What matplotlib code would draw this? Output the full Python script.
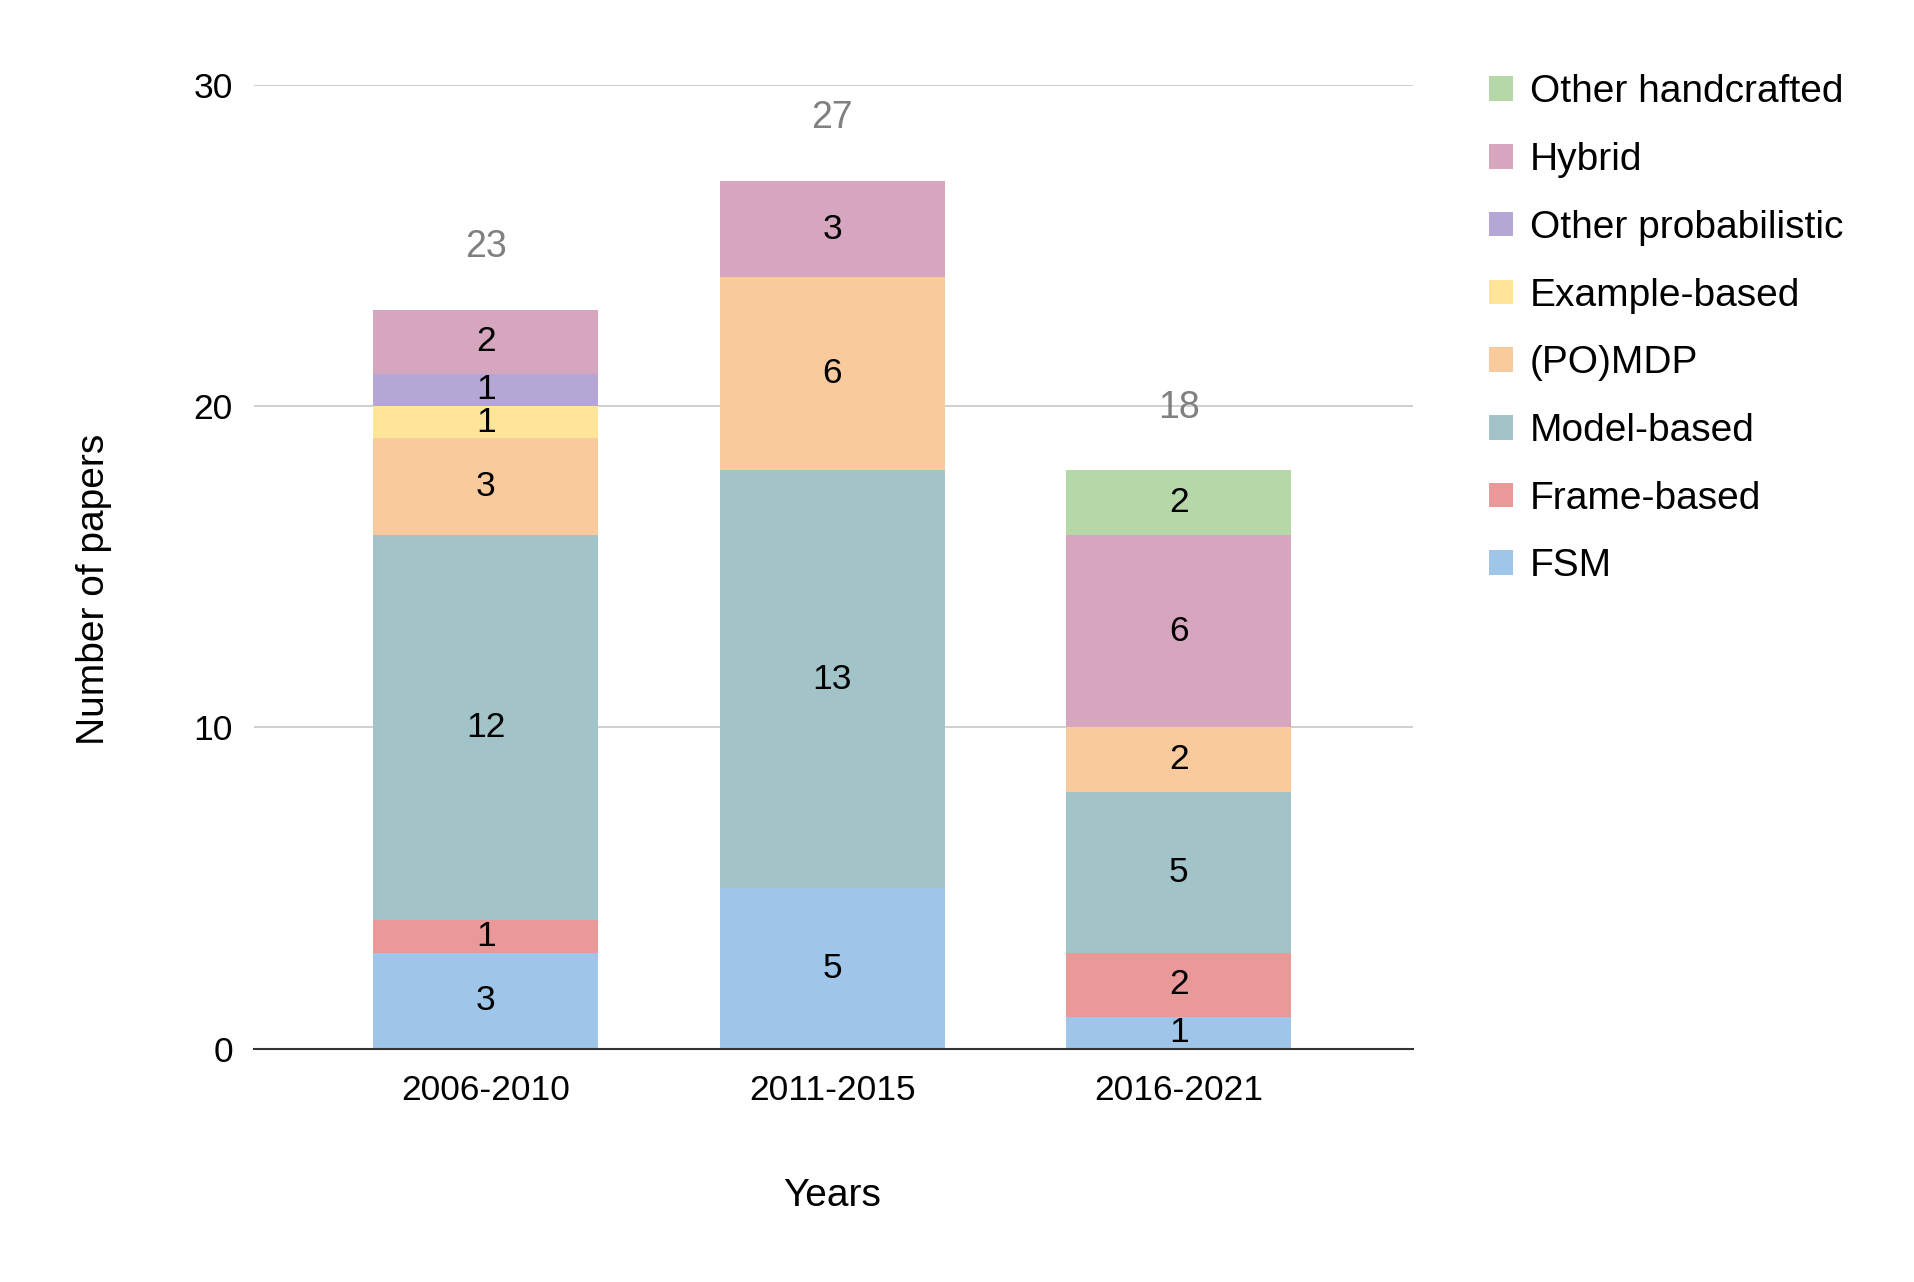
import matplotlib
matplotlib.use("Agg")
import matplotlib.pyplot as plt
from matplotlib.patches import Patch
import numpy as np

plt.rcParams['font.family'] = ['Liberation Sans', 'DejaVu Sans']

periods = ["2006-2010", "2011-2015", "2016-2021"]
series_names = ["FSM", "Frame-based", "Model-based", "(PO)MDP",
                "Example-based", "Other probabilistic", "Hybrid", "Other handcrafted"]
fsm = [3, 5, 1]
frame_based = [1, 0, 2]
model_based = [12, 13, 5]
pomdp = [3, 6, 2]
example_based = [1, 0, 0]
other_probabilistic = [1, 0, 0]
hybrid = [2, 3, 6]
other_handcrafted = [0, 0, 2]
series_values = [fsm, frame_based, model_based, pomdp, example_based,
                 other_probabilistic, hybrid, other_handcrafted]
colors = ["#9FC5E8", "#EA9999", "#A2C4C9", "#F9CB9C", "#FFE599",
          "#B4A7D6", "#D5A6BD", "#B6D7A8"]
yticks = [0, 10, 20, 30]

fig = plt.figure(figsize=(19.14, 12.82), dpi=100)
ax = fig.add_axes([0.1325, 0.1818, 0.738 - 0.1325, 0.934 - 0.1818])

x = np.arange(len(periods))
bottom = np.zeros(len(periods))
for name, vals, col in zip(series_names, series_values, colors):
    vals = np.array(vals, dtype=float)
    ax.bar(x, vals, bottom=bottom, width=0.65, color=col, zorder=2, linewidth=0)
    for xi, v, b in zip(x, vals, bottom):
        if v > 0:
            ax.text(xi, b + v / 2, f"{int(v)}", ha='center', va='center',
                    fontsize=25.5, color='#000000', zorder=3)
    bottom += vals

for xi, tot in zip(x, bottom):
    ax.text(xi, tot + 1.95, f"{int(tot)}", ha='center', va='center',
            fontsize=27, color='#808080', zorder=3)

ax.set_xlim(-0.67, 2.675)
ax.set_ylim(0, 30)
ax.set_yticks(yticks)
ax.set_yticklabels([str(t) for t in yticks])
ax.set_xticks(x)
ax.set_xticklabels(periods)
ax.tick_params(axis='both', length=0, labelsize=25.5, colors='#000000')
ax.tick_params(axis='x', pad=18)
ax.tick_params(axis='y', pad=15)
ax.yaxis.grid(True, color='#CCCCCC', linewidth=1.3, zorder=0)
ax.set_axisbelow(True)
for s in ['top', 'right', 'left']:
    ax.spines[s].set_visible(False)
ax.spines['bottom'].set_color('#333333')
ax.spines['bottom'].set_linewidth(1.5)
ax.spines['bottom'].set_zorder(4)

fig.text(0.435, 0.067, "Years", ha='center', va='center', fontsize=28)
fig.text(0.049, 0.5405, "Number of papers", ha='center', va='center',
         rotation=90, fontsize=28)

handles = [Patch(facecolor=c, edgecolor='none', label=n)
           for n, c in zip(series_names, colors)][::-1]
fig.legend(handles=handles, loc='upper left', bbox_to_anchor=(0.7782, 0.942),
           frameon=False, fontsize=28, handlelength=0.6, handleheight=0.6,
           handletextpad=0.44, labelspacing=0.816, borderpad=0, borderaxespad=0)

fig.savefig("out.png", dpi=100)
